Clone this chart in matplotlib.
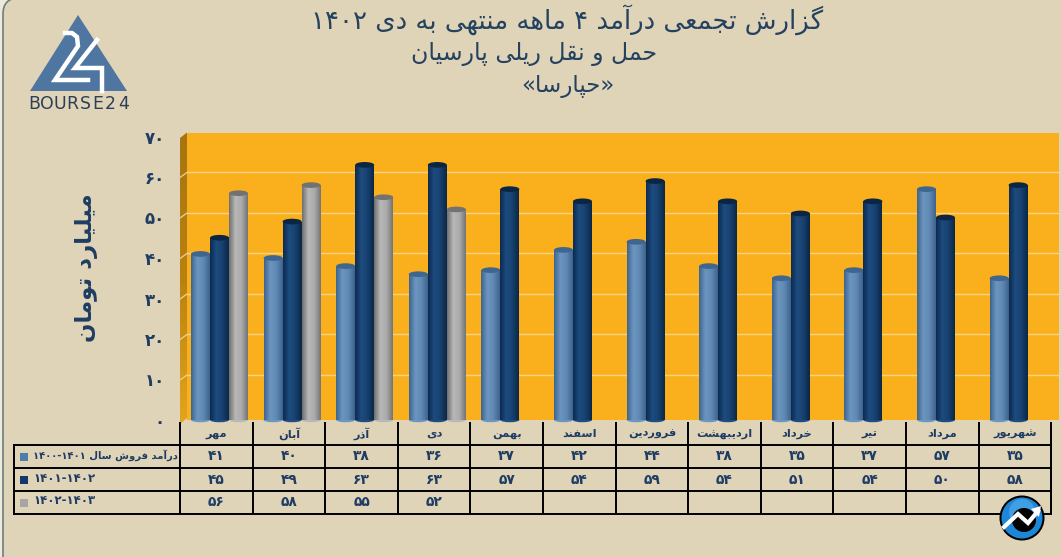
import re
import numpy as np
import matplotlib
matplotlib.use('Agg')
import matplotlib.pyplot as plt
from matplotlib.colors import LinearSegmentedColormap
from matplotlib.patches import Ellipse, Polygon, FancyBboxPatch, Circle, Rectangle

title_lines = ['گزارش تجمعی درآمد ۴ ماهه منتهی به دی ۱۴۰۲', 'حمل و نقل ریلی پارسیان', '«حپارسا»']
y_label = 'میلیارد تومان'
months = ['مهر', 'آبان', 'آذر', 'دی', 'بهمن', 'اسفند', 'فروردین', 'اردیبهشت', 'خرداد', 'تیر', 'مرداد', 'شهریور']
series_names = ['درآمد فروش سال ۱۴۰۰-۱۴۰۱', '۱۴۰۱-۱۴۰۲', '۱۴۰۲-۱۴۰۳']
sales_1400 = [41, 40, 38, 36, 37, 42, 44, 38, 35, 37, 57, 35]
sales_1401 = [45, 49, 63, 63, 57, 54, 59, 54, 51, 54, 50, 58]
sales_1402 = [56, 58, 55, 52]
y_ticks = [0, 10, 20, 30, 40, 50, 60, 70]

W, H = 1061, 557
BG = '#DFD3B8'
NAVY = '#1F3D63'
WALL = '#FAB01C'
GRID = '#F9D283'
SWATCH = ['#4F7CA8', '#123A68', '#A6A6A6']
GRADS = [['#3D6590', '#6C95BF', '#5F88B2', '#3E648E'],
         ['#0D2B50', '#1D4C80', '#17406E', '#0C2747'],
         ['#707070', '#B8B8B8', '#ABABAB', '#757575']]
CAPS = ['#3F668F', '#0B2543', '#727272']

# presentation forms: isolated, final, initial, medial
JOIN_BOTH = {'ب': 0xFE8F, 'ت': 0xFE95, 'ج': 0xFE9D, 'ح': 0xFEA1, 'خ': 0xFEA5, 'س': 0xFEB1, 'ش': 0xFEB5,
             'ع': 0xFEC9, 'ف': 0xFED1, 'ق': 0xFED5, 'ل': 0xFEDD, 'م': 0xFEE1, 'ن': 0xFEE5, 'ه': 0xFEE9,
             'پ': 0xFB56, 'ی': 0xFBFC, 'گ': 0xFB92}
JOIN_RIGHT = {'ا': 0xFE8D, 'آ': 0xFE81, 'د': 0xFEA9, 'ذ': 0xFEAB, 'ر': 0xFEAD, 'ز': 0xFEAF, 'و': 0xFEED,
              'ﻻ': 0xFEFB}


def fa(text):
    # matplotlib has no arabic shaping, so pick the glyph forms and reverse by hand
    text = text.replace('لا', 'ﻻ')
    out = []
    for i, c in enumerate(text):
        prev_c = text[i - 1] if i else ''
        next_c = text[i + 1] if i + 1 < len(text) else ''
        after = prev_c in JOIN_BOTH
        before = c in JOIN_BOTH and (next_c in JOIN_BOTH or next_c in JOIN_RIGHT)
        if c in JOIN_BOTH:
            out.append(chr(JOIN_BOTH[c] + (3 if after and before else 2 if before else 1 if after else 0)))
        elif c in JOIN_RIGHT:
            out.append(chr(JOIN_RIGHT[c] + (1 if after else 0)))
        else:
            out.append(c)
    visual = ''.join(reversed(out)).translate(str.maketrans('«»', '»«'))
    return re.sub(r'[۰-۹]+(?:-[۰-۹]+)*', lambda m: m.group(0)[::-1], visual)


def fa_num(value):
    return fa(str(value).translate(str.maketrans('0123456789', '۰۱۲۳۴۵۶۷۸۹')))


fig = plt.figure(figsize=(W / 100, H / 100), dpi=100, facecolor='#EFE9DC')

# pixel overlay for the frame, table and logos
deco = fig.add_axes([0, 0, 1, 1], zorder=0)
deco.set_xlim(0, W)
deco.set_ylim(H, 0)
deco.axis('off')
deco.add_patch(FancyBboxPatch((3, -2), W + 60, H + 60, boxstyle='round,pad=0,rounding_size=16',
                              fc=BG, ec='#6A7F80', lw=1.2))

# chart, 4.05 px per unit with zero at y=420
PX = 4.05
left, right, top, bottom = 187, 1059, 132.5, 425
ax = fig.add_axes([left / W, 1 - bottom / H, (right - left) / W, (bottom - top) / H], zorder=1)
ax.patch.set_alpha(0)
for s in ax.spines.values():
    s.set_visible(False)
y_low, y_high = (420 - bottom) / PX, (420 - top) / PX
ax.add_patch(Rectangle((-1, 0), 14, y_high, fc=WALL, ec='none', zorder=0))
DEPTH = 1.15
for t in y_ticks[1:-1]:
    ax.plot([-1, 13], [t + DEPTH, t + DEPTH], color=GRID, lw=1.0, zorder=1)

group_px = 72.6
x0_data = (219.5 - left) / group_px
x_high = (right - left) / group_px - x0_data
bar_w = 19 / group_px
for s_i, values in enumerate([sales_1400, sales_1401, sales_1402]):
    cmap = LinearSegmentedColormap.from_list('cyl', GRADS[s_i])
    for m_i, v in enumerate(values):
        x = m_i + (s_i - 1) * bar_w
        z = 3 + s_i * 2
        ax.add_patch(Ellipse((x, 0), bar_w, 1.1, fc=GRADS[s_i][1], ec='none', zorder=z))
        b = ax.bar(x, v, bar_w, color=GRADS[s_i][1], zorder=z)[0]
        im = ax.imshow(np.linspace(0, 1, 40)[None, :], cmap=cmap, aspect='auto',
                       extent=(x - bar_w / 2, x + bar_w / 2, 0, v), zorder=z + 0.5)
        im.set_clip_path(b)
        ax.add_patch(Ellipse((x, v), bar_w, 1.4, fc=CAPS[s_i], ec='none', zorder=z + 0.6))

ax.set_xlim(-x0_data, x_high)
ax.set_ylim(y_low, y_high)
ax.set_xticks([])
ax.set_yticks(y_ticks)
ax.set_yticklabels([fa_num(t) for t in y_ticks], fontsize=12, fontweight='bold', color=NAVY)
ax.tick_params(axis='y', length=0, pad=16)

# side wall
side = Polygon([(180, 138), (187, 132.5), (187, 418), (180, 424)], closed=True, fc='none', ec='none')
deco.add_patch(side)
wall_im = deco.imshow(np.linspace(0, 1, 50)[:, None],
                      cmap=LinearSegmentedColormap.from_list('side', ['#A8740F', '#B9820F', '#E2A41E']),
                      aspect='auto', extent=(180, 187, 424, 132), zorder=2)
wall_im.set_clip_path(side)
for t in y_ticks[1:-1]:
    py = 420 - t * PX
    deco.plot([180, 187], [py + 0.5, py - 4.5], color='#E7CB8C', lw=1, zorder=3)
deco.set_xlim(0, W)
deco.set_ylim(H, 0)

# title and axis label
for line, cx, cy, fs in zip(title_lines, [567, 534, 568], [20, 54, 87], [18.7, 17, 16.5]):
    deco.text(cx, cy, fa(line), ha='center', va='center', fontsize=fs, color='#24425F')
deco.text(86, 268, fa(y_label), rotation=90, ha='center', va='center', fontsize=16.5,
          fontweight='bold', color=NAVY)

# table
col_x = [180 + group_px * i for i in range(13)]
row_y = [445, 468, 491, 514]
for x in col_x:
    deco.plot([x, x], [422, 514], color='black', lw=1.4, solid_capstyle='butt')
for y in row_y:
    deco.plot([14, col_x[-1]], [y, y], color='black', lw=1.4)
deco.plot([14, 14], [445, 514], color='black', lw=1.4)

for i, name in enumerate(months):
    deco.text(col_x[i] + group_px / 2, 434, fa(name), ha='center', va='center', fontsize=8.2,
              fontweight='bold', color=NAVY)
legend_sizes = [7.2, 8.5, 8.5]
for r, values in enumerate([sales_1400, sales_1401, sales_1402]):
    cy = (row_y[r] + row_y[r + 1]) / 2
    deco.add_patch(Rectangle((20, cy - 4), 8, 8, fc=SWATCH[r], ec='none'))
    deco.text(33, cy - 1.5, fa(series_names[r]), ha='left', va='center', fontsize=legend_sizes[r],
              fontweight='bold', color=NAVY)
    for i, v in enumerate(values):
        deco.text(col_x[i] + group_px / 2, cy, fa_num(v), ha='center', va='center', fontsize=10,
                  fontweight='bold', color=NAVY)

# bourse24 logo
deco.add_patch(Polygon([(78, 15), (30, 91), (127, 91)], closed=True, fc='#4F76A0', ec='none'))
deco.plot([65, 72, 77, 78, 55, 88], [33, 33, 37, 46, 80, 80], color='white', lw=3.2, solid_joinstyle='miter')
deco.plot([97, 75, 102, 102], [40, 68, 68, 91], color='white', lw=3.2, solid_joinstyle='miter')
for i, ch in enumerate('BOURSE24'):
    deco.text(34.5 + i * 12.7, 104, ch, ha='center', va='center', fontsize=12.5, color='#2C3F57')

# round badge bottom right
deco.add_patch(Circle((1022, 518), 22.5, fc='black', ec='none', zorder=5))
deco.add_patch(Circle((1022, 518), 20.5, fc='#1E86D6', ec='none', zorder=5))
deco.add_patch(Circle((1022, 512), 13, fc='#63B6EE', ec='none', alpha=0.5, zorder=5))
deco.add_patch(Circle((1024, 520), 12, fc='black', ec='none', zorder=5))
deco.plot([1004, 1018, 1028, 1038], [527, 514, 523, 511], color='white', lw=3, zorder=6,
          solid_joinstyle='miter')
deco.add_patch(Polygon([(1041, 506), (1031, 509), (1039, 517)], closed=True, fc='white', ec='none', zorder=6))

fig.savefig('out.png', dpi=100, facecolor=fig.get_facecolor())
